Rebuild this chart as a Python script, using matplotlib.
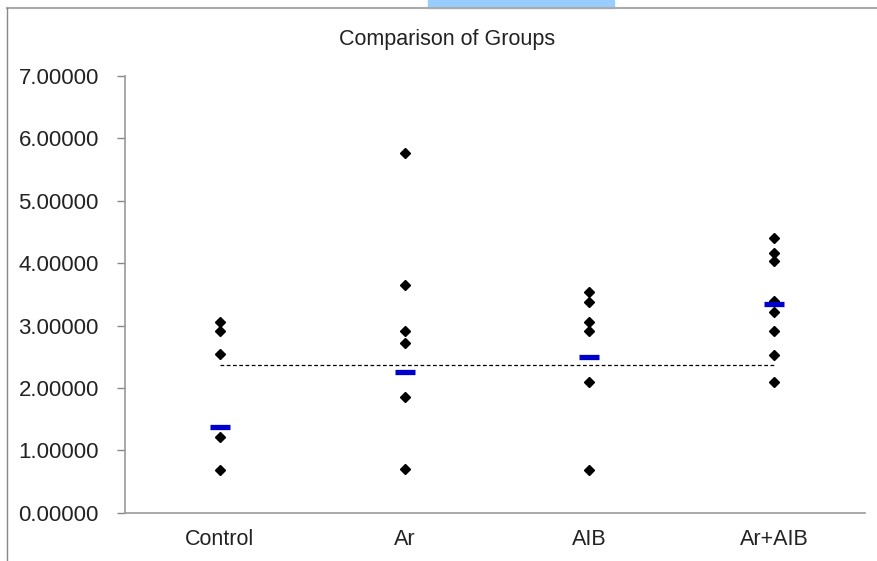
import matplotlib.pyplot as plt
from matplotlib.patches import Rectangle
from matplotlib.lines import Line2D

plt.rcParams['font.family'] = ['Liberation Sans', 'DejaVu Sans']

groups = ["Control", "Ar", "AIB", "Ar+AIB"]
control = [3.06, 2.92, 2.54, 1.21, 0.69]
ar = [5.76, 3.65, 2.92, 2.72, 1.86, 0.70]
aib = [3.53, 3.37, 3.06, 2.91, 2.10, 0.69]
ar_aib = [4.41, 4.17, 4.03, 3.40, 3.22, 2.92, 2.53, 2.10]
means = [1.38, 2.25, 2.50, 3.34]
overall = 2.37
yticks = [0, 1, 2, 3, 4, 5, 6, 7]

fig = plt.figure(figsize=(8.77, 5.61), dpi=100)
ax = fig.add_axes([125.3 / 877, 1 - 512.7 / 561, (865 - 125.3) / 877, (512.7 - 76) / 561])

# dashed overall line
ax.plot([1, 4], [overall, overall], color="black", linestyle=(0, (3, 2)), linewidth=0.9, zorder=2)

for i, vals in enumerate([control, ar, aib, ar_aib]):
    ax.plot([i + 1] * len(vals), vals, linestyle="none", marker="D", markersize=5.5,
            color="black", zorder=3)
ax.plot(range(1, 5), means, linestyle="none", marker="_", markersize=14,
        markeredgewidth=3.8, color="#0000cc", zorder=4)

ax.set_xlim(0.49, 4.49)
ax.set_ylim(0, 7)
ax.set_xticks(range(1, 5))
ax.set_xticklabels(groups)
ax.set_yticks(yticks)
ax.set_yticklabels(["%.5f" % v for v in yticks])
ax.tick_params(axis="x", length=0, pad=12, labelsize=15.5, labelcolor="#222222")
ax.tick_params(axis="y", length=6, width=1, color="#888888", direction="out", pad=13,
               labelsize=16, labelcolor="#222222")
for s in ["top", "right"]:
    ax.spines[s].set_visible(False)
for s in ["left", "bottom"]:
    ax.spines[s].set_color("#999999")
    ax.spines[s].set_linewidth(1.2)

fig.text(447 / 877, 1 - 40 / 561, "Comparison of Groups", ha="center", va="center",
         fontsize=15.5, color="#222222")

# chart frame pieces from the screenshot
fig.add_artist(Line2D([7 / 877, 1], [1 - 8 / 561, 1 - 8 / 561], color="#aaaaaa", linewidth=1.5))
fig.add_artist(Line2D([7 / 877, 7 / 877], [0, 1 - 8 / 561], color="#888888", linewidth=1))
fig.add_artist(Rectangle((428 / 877, 1 - 8 / 561), (614 - 428) / 877, 8 / 561,
                         color="#99ccff", transform=fig.transFigure))

fig.savefig("out.png", dpi=100)
